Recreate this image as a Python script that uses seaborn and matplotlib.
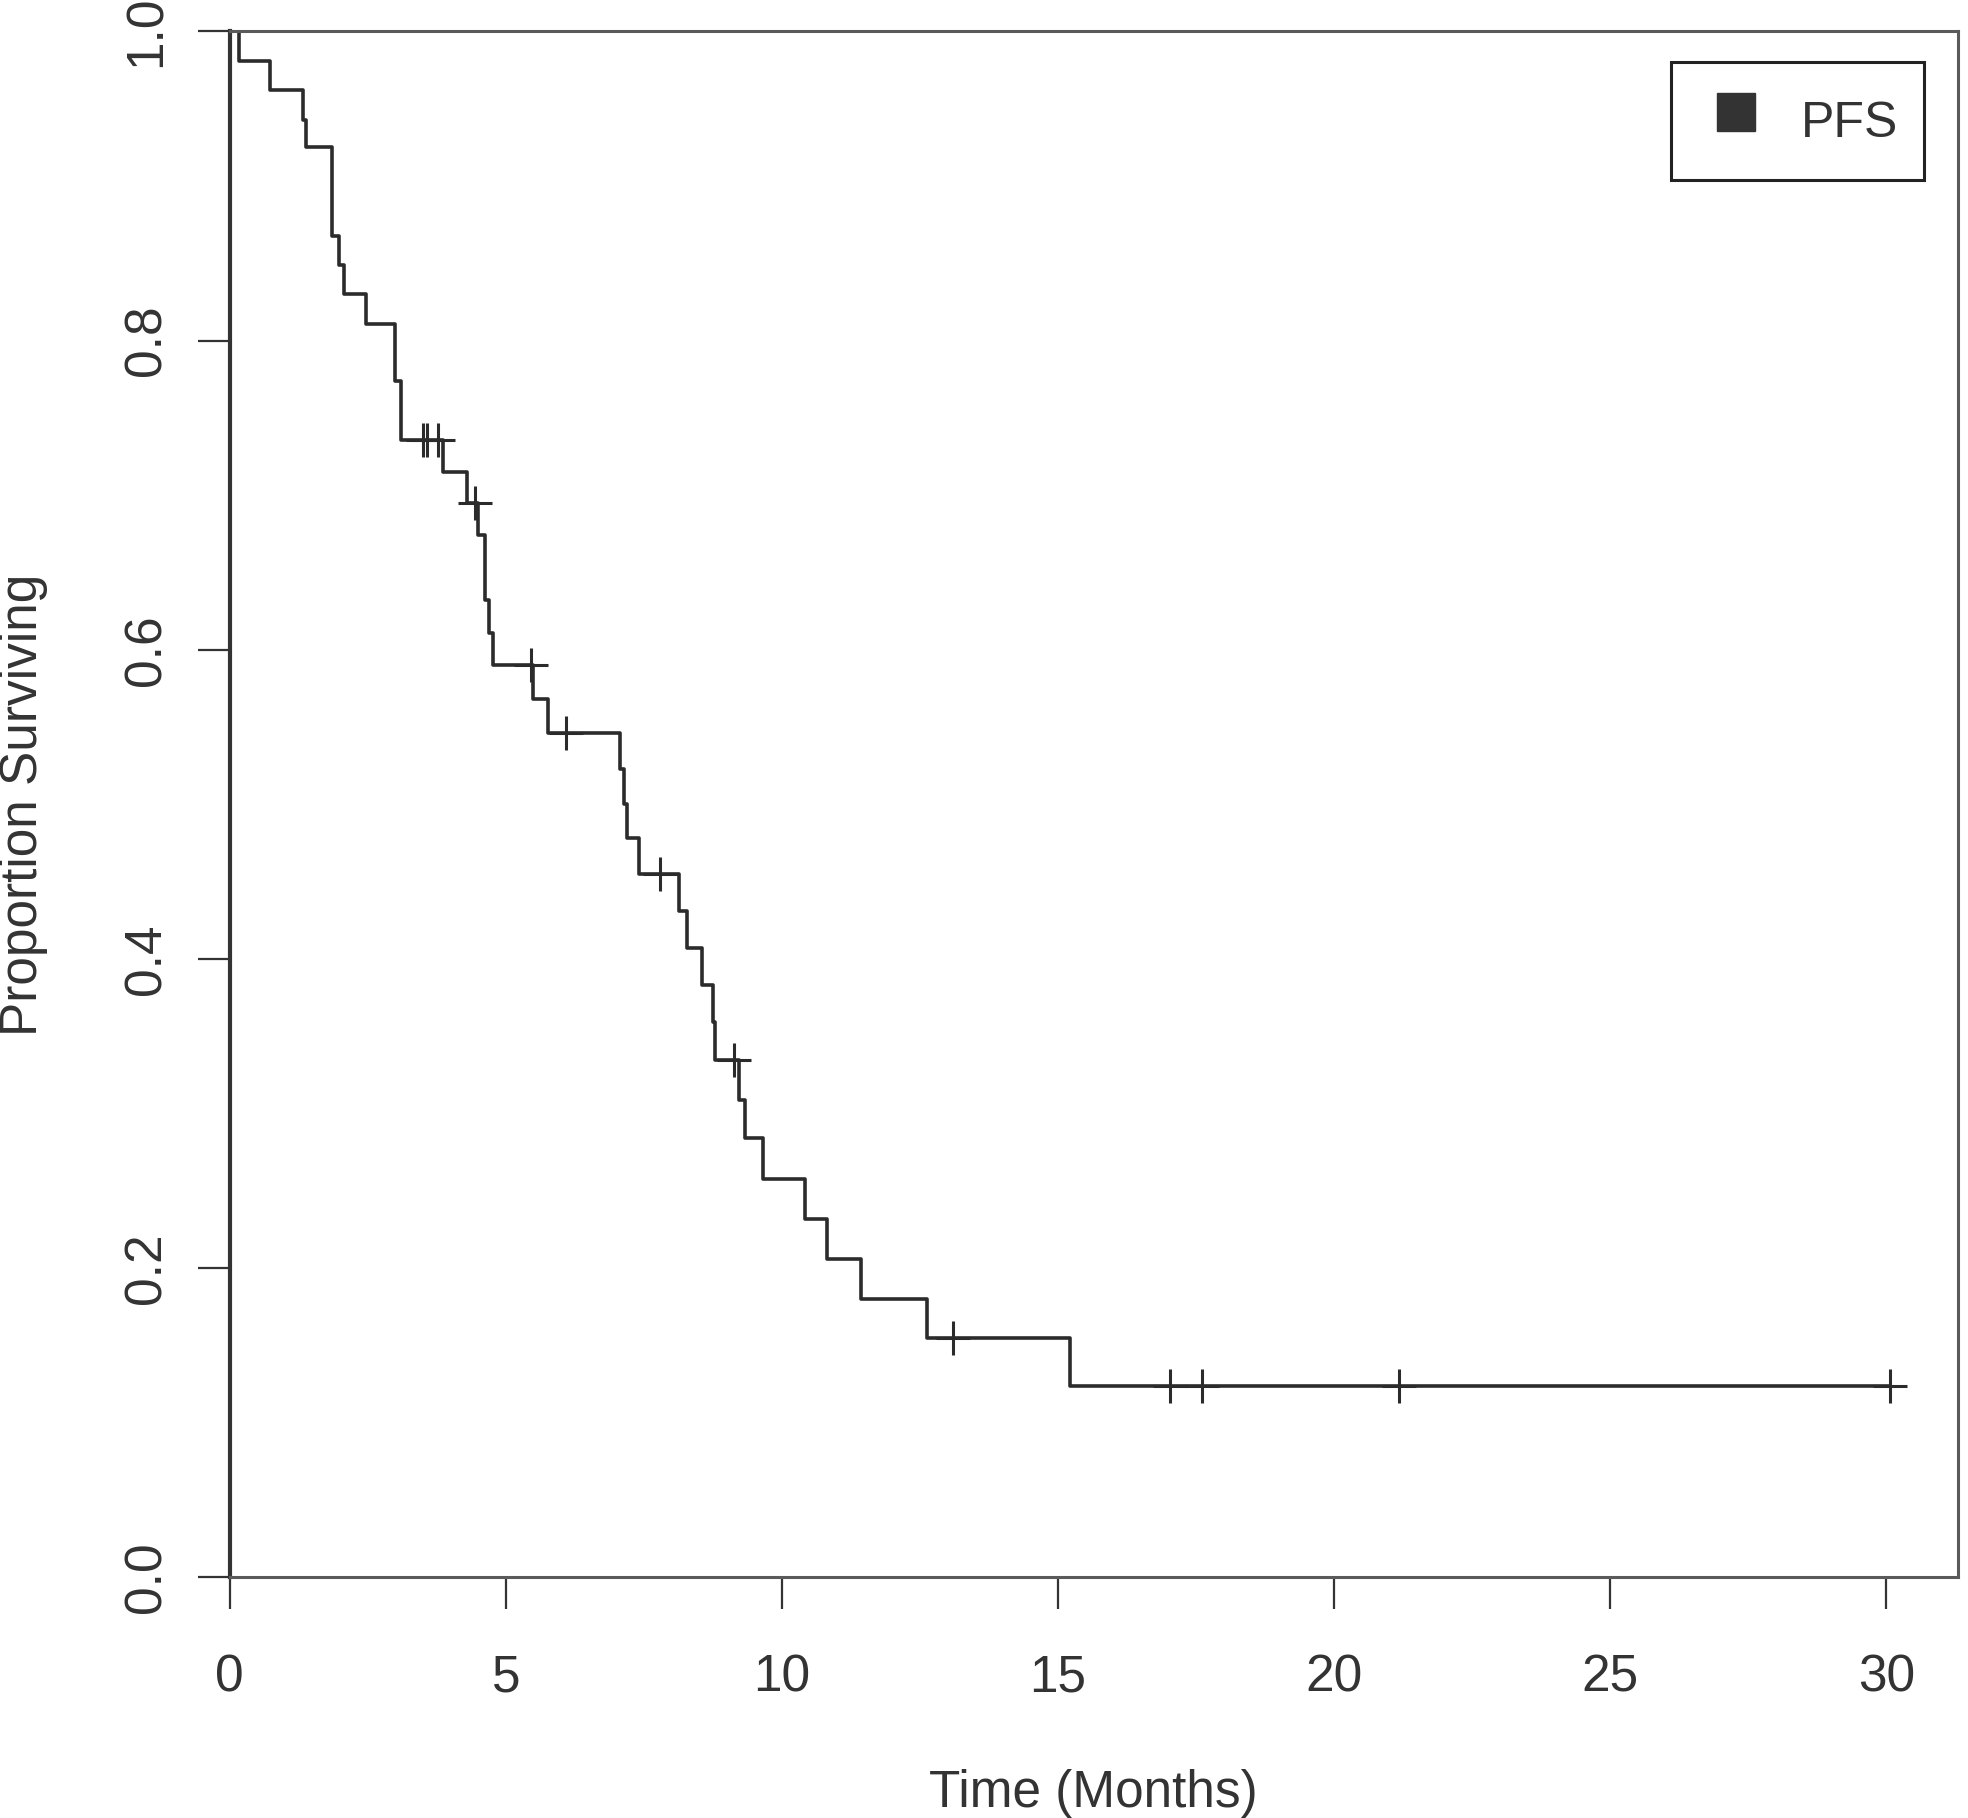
import pandas as pd
import matplotlib
matplotlib.use('Agg')
import matplotlib.pyplot as plt
from matplotlib.lines import Line2D
import seaborn as sns

# step points of the PFS curve (months, proportion surviving)
event_times = [0, 0.16, 0.73, 1.32, 1.38, 1.85, 1.98, 2.07, 2.46, 2.99, 3.10, 3.87, 4.30, 4.50, 4.62,
               4.70, 4.76, 5.49, 5.77, 7.07, 7.14, 7.19, 7.41, 8.13, 8.29, 8.55, 8.75, 8.79, 9.23, 9.33,
               9.66, 10.42, 10.82, 11.44, 12.62, 15.22, 30.07]
surv = [1.0, 0.981, 0.962, 0.943, 0.925, 0.868, 0.849, 0.830, 0.811, 0.774, 0.736, 0.715, 0.695, 0.674, 0.632,
        0.611, 0.590, 0.568, 0.546, 0.523, 0.500, 0.478, 0.455, 0.431, 0.407, 0.383, 0.359, 0.335, 0.309, 0.284,
        0.258, 0.232, 0.206, 0.180, 0.155, 0.124, 0.124]

# censored observations
cens_times = [3.51, 3.58, 3.78, 4.44, 5.46, 6.09, 7.79, 9.14, 13.09, 17.03, 17.60, 21.17, 30.07]
cens_surv = [0.736, 0.736, 0.736, 0.695, 0.590, 0.546, 0.455, 0.335, 0.155, 0.124, 0.124, 0.124, 0.124]

x_ticks = [0, 5, 10, 15, 20, 25, 30]
y_ticks = [0.0, 0.2, 0.4, 0.6, 0.8, 1.0]
y_ticklabels = ['0.0', '0.2', '0.4', '0.6', '0.8', '1.0']

sns.set_style('ticks')
plt.rcParams['font.family'] = ['Liberation Sans', 'DejaVu Sans']

curve_df = pd.DataFrame({'Time': event_times, 'Surv': surv})
cens_df = pd.DataFrame({'Time': cens_times, 'Surv': cens_surv})

line_col = '#2b2b2b'
txt_col = '#333333'
fs = 37

fig = plt.figure(figsize=(19.68, 18.18), dpi=100)
ax = fig.add_axes([0.1167, 0.1323, 0.8783, 0.8504])

sns.lineplot(x='Time', y='Surv', data=curve_df, drawstyle='steps-post', estimator=None,
             color=line_col, linewidth=2.6, ax=ax)
sns.scatterplot(x='Time', y='Surv', data=cens_df, marker='+', s=600, linewidth=2.2,
                color=line_col, ax=ax, zorder=3)

ax.set_xlim(0, 31.3)
ax.set_ylim(0, 1)
ax.set_xticks(x_ticks)
ax.set_xticklabels([str(t) for t in x_ticks])
ax.set_yticks(y_ticks)
ax.set_yticklabels(y_ticklabels, rotation=90, va='center')

ax.tick_params(axis='both', length=23, width=1.6, color=txt_col, labelsize=fs, labelcolor=txt_col)
ax.tick_params(axis='x', pad=32)
ax.tick_params(axis='y', pad=19)

for side, sp in ax.spines.items():
    sp.set_visible(True)
    sp.set_linewidth(2.2)
    sp.set_color('#5a5a5a')
ax.spines['left'].set_color(txt_col)
ax.spines['left'].set_linewidth(3)

ax.set_xlabel('Time (Months)', fontsize=fs, color=txt_col)
ax.set_ylabel('Proportion Surviving', fontsize=fs, color=txt_col)
ax.xaxis.set_label_coords(0.4995, -0.124)
ax.yaxis.set_label_coords(-0.105, 0.5)

handle = Line2D([], [], marker='s', linestyle='', color=txt_col, markersize=27)
leg = ax.legend([handle], ['PFS'], loc='upper right', bbox_to_anchor=(0.980, 0.980), borderaxespad=0,
                fontsize=36, frameon=True, fancybox=False, framealpha=1, borderpad=0.5,
                handlelength=1.6, handleheight=1.7, handletextpad=0.5)
leg.get_frame().set_edgecolor('#222222')
leg.get_frame().set_linewidth(2.2)
for t in leg.get_texts():
    t.set_color(txt_col)

fig.savefig('out.png', dpi=100)
